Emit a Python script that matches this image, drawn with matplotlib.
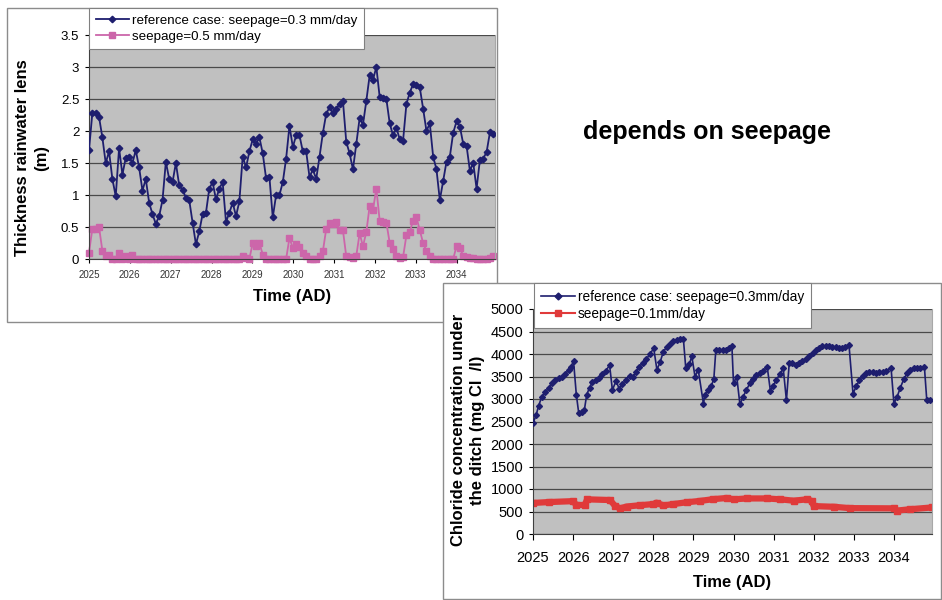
import numpy as np
import matplotlib
matplotlib.use("Agg")
import matplotlib.pyplot as plt
from matplotlib.lines import Line2D
from matplotlib.patches import Rectangle

plt.rcParams["font.family"] = ["Liberation Sans", "DejaVu Sans"]

NAVY = "#1e1e6e"
PINK = "#cc66aa"
RED = "#e03a3a"
PLOT_BG = "#c0c0c0"
GRID = "#4a4a4a"
FRAME = "#8c8c8c"

# --- thickness of the rainwater lens (m), model output roughly every month
lens_ref = [1.70, 2.28, 2.28, 2.22, 1.90, 1.50, 1.68, 1.25, 0.98, 1.73,
            1.32, 1.58, 1.60, 1.50, 1.70, 1.43, 1.07, 1.25, 0.88, 0.70,
            0.55, 0.67, 0.92, 1.52, 1.25, 1.20, 1.50, 1.15, 1.08, 0.96,
            0.92, 0.57, 0.23, 0.43, 0.70, 0.72, 1.10, 1.20, 0.93, 1.10,
            1.20, 0.58, 0.72, 0.88, 0.67, 0.90, 1.60, 1.43, 1.68, 1.87,
            1.80, 1.90, 1.65, 1.26, 1.28, 0.65, 1.00, 1.00, 1.20, 1.57,
            2.08, 1.75, 1.93, 1.93, 1.68, 1.68, 1.28, 1.40, 1.25, 1.60,
            1.97, 2.27, 2.37, 2.28, 2.35, 2.42, 2.47, 1.83, 1.65, 1.40,
            1.80, 2.20, 2.10, 2.47, 2.87, 2.80, 3.00, 2.53, 2.52, 2.50,
            2.12, 1.93, 2.05, 1.87, 1.85, 2.42, 2.60, 2.73, 2.72, 2.68,
            2.35, 2.00, 2.12, 1.60, 1.40, 0.92, 1.22, 1.52, 1.60, 1.97,
            2.15, 2.07, 1.80, 1.77, 1.38, 1.50, 1.10, 1.55, 1.57, 1.67,
            1.98, 1.95]
lens_05 = [0.10, 0.47, 0.47, 0.50, 0.13, 0.05, 0.07, 0.00, 0.00, 0.10,
           0.00, 0.05, 0.00, 0.06, 0.00, 0.00, 0.00, 0.00, 0.00, 0.00,
           0.00, 0.00, 0.00, 0.00, 0.00, 0.00, 0.00, 0.00, 0.00, 0.00,
           0.00, 0.00, 0.00, 0.00, 0.00, 0.00, 0.00, 0.00, 0.00, 0.00,
           0.00, 0.00, 0.00, 0.00, 0.00, 0.00, 0.05, 0.02, 0.00, 0.25,
           0.20, 0.25, 0.07, 0.00, 0.00, 0.00, 0.00, 0.00, 0.00, 0.00,
           0.33, 0.17, 0.23, 0.18, 0.10, 0.05, 0.00, 0.00, 0.00, 0.04,
           0.12, 0.47, 0.57, 0.55, 0.58, 0.45, 0.45, 0.04, 0.03, 0.02,
           0.05, 0.40, 0.20, 0.42, 0.83, 0.77, 1.10, 0.60, 0.58, 0.57,
           0.25, 0.15, 0.05, 0.02, 0.03, 0.37, 0.42, 0.60, 0.65, 0.45,
           0.25, 0.12, 0.05, 0.00, 0.00, 0.00, 0.00, 0.00, 0.00, 0.00,
           0.20, 0.17, 0.05, 0.03, 0.02, 0.01, 0.00, 0.00, 0.00, 0.00,
           0.02, 0.05]
lens_step = 0.0818  # years between outputs
lens_time = 2025 + lens_step * np.arange(len(lens_ref))

# --- chloride concentration under the ditch (mg Cl-/l)
chl_time = [2024.92, 2025.00, 2025.08, 2025.14, 2025.22, 2025.31, 2025.39, 2025.47, 2025.56, 2025.64,
            2025.72, 2025.80, 2025.89, 2025.95, 2026.01, 2026.08, 2026.14, 2026.22, 2026.28, 2026.34,
            2026.41, 2026.48, 2026.56, 2026.64, 2026.73, 2026.81, 2026.91, 2026.98, 2027.07, 2027.15,
            2027.23, 2027.31, 2027.41, 2027.49, 2027.57, 2027.65, 2027.74, 2027.82, 2027.92, 2028.01,
            2028.09, 2028.17, 2028.25, 2028.33, 2028.42, 2028.50, 2028.58, 2028.67, 2028.75, 2028.81,
            2028.90, 2028.96, 2029.04, 2029.12, 2029.25, 2029.29, 2029.37, 2029.45, 2029.51, 2029.56,
            2029.64, 2029.73, 2029.81, 2029.89, 2029.96, 2030.00, 2030.08, 2030.16, 2030.24, 2030.32,
            2030.41, 2030.49, 2030.57, 2030.66, 2030.74, 2030.84, 2030.92, 2030.99, 2031.07, 2031.15,
            2031.24, 2031.32, 2031.39, 2031.47, 2031.55, 2031.63, 2031.72, 2031.80, 2031.88, 2031.97,
            2032.05, 2032.13, 2032.21, 2032.30, 2032.38, 2032.46, 2032.55, 2032.63, 2032.71, 2032.79,
            2032.88, 2032.98, 2033.06, 2033.14, 2033.23, 2033.31, 2033.39, 2033.47, 2033.56, 2033.64,
            2033.72, 2033.81, 2033.93, 2034.00, 2034.08, 2034.16, 2034.25, 2034.33, 2034.41, 2034.49,
            2034.58, 2034.66, 2034.76, 2034.82, 2034.90]
chl_ref = [2950, 2460, 2650, 2850, 3050, 3150, 3250, 3350, 3420, 3470,
           3500, 3560, 3640, 3720, 3850, 3100, 2690, 2720, 2750, 3100,
           3250, 3380, 3420, 3470, 3550, 3620, 3750, 3200, 3400, 3230,
           3330, 3420, 3520, 3480, 3600, 3720, 3800, 3880, 4000, 4130,
           3650, 3820, 4050, 4150, 4220, 4280, 4320, 4330, 4340, 3680,
           3780, 3950, 3500, 3650, 2900, 3100, 3200, 3300, 3450, 4100,
           4100, 4080, 4100, 4130, 4180, 3350, 3500, 2880, 3050, 3200,
           3350, 3450, 3530, 3580, 3620, 3720, 3180, 3300, 3420, 3550,
           3680, 2970, 3800, 3800, 3760, 3790, 3850, 3900, 3960, 4020,
           4080, 4130, 4170, 4180, 4170, 4160, 4150, 4140, 4130, 4150,
           4200, 3120, 3280, 3420, 3520, 3580, 3600, 3600, 3580, 3600,
           3600, 3620, 3680, 2900, 3050, 3250, 3450, 3570, 3650, 3680,
           3690, 3700, 3720, 2970, 2970]
chl_01_time = [2025.00, 2025.40, 2026.00, 2026.08, 2026.29, 2026.35, 2026.92, 2027.05, 2027.17, 2027.34,
               2027.67, 2028.00, 2028.08, 2028.25, 2028.50, 2028.83, 2029.17, 2029.50, 2029.83, 2030.00,
               2030.33, 2030.83, 2031.17, 2031.50, 2031.83, 2031.95, 2032.00, 2032.50, 2032.90, 2034.00,
               2034.08, 2034.40, 2034.95]
chl_01 = [690, 710, 730, 645, 645, 770, 755, 620, 570, 610,
          640, 665, 695, 635, 665, 705, 735, 775, 800, 770,
          790, 790, 770, 740, 770, 735, 620, 605, 575, 570,
          520, 550, 590]

years = list(range(2025, 2035))

W, H = 942, 600
fig = plt.figure(figsize=(W / 100, H / 100), dpi=100)


def fx(px):
    return px / W


def fy(py):
    return 1 - py / H


# slide frames
fig.add_artist(Rectangle((fx(7), fy(322)), 490 / W, 314 / H, transform=fig.transFigure,
                         fill=False, ec=FRAME, lw=1, zorder=-2))
fig.add_artist(Rectangle((fx(443), fy(599)), 498 / W, 316 / H, transform=fig.transFigure,
                         fc="white", ec=FRAME, lw=1, zorder=-1))

# ---------- top chart ----------
ax1 = fig.add_axes([fx(89), fy(259), 406 / W, 224 / H])
ax1.set_facecolor(PLOT_BG)
ax1.plot(lens_time, lens_ref, color=NAVY, lw=1.3, marker="D", ms=3.3,
         label="reference case: seepage=0.3 mm/day", zorder=3)
ax1.plot(lens_time, lens_05, color=PINK, lw=1.3, marker="s", ms=4,
         label="seepage=0.5 mm/day", zorder=2, clip_on=False)
ax1.set_xlim(2025, 2034.94)
ax1.set_ylim(0, 3.5)
ax1.set_yticks(np.arange(0, 3.51, 0.5))
ax1.set_yticklabels(["0", "0.5", "1", "1.5", "2", "2.5", "3", "3.5"])
ax1.set_xticks(years)
ax1.set_xticklabels([str(y) for y in years])
ax1.grid(axis="y", color=GRID, lw=0.9)
ax1.set_axisbelow(True)
ax1.tick_params(axis="x", direction="out", length=3, labelsize=7, labelcolor="#333333", pad=5)
ax1.tick_params(axis="y", direction="out", length=3, labelsize=9.5, pad=4)
for s in ["left", "bottom"]:
    ax1.spines[s].set_color("#404040")
ax1.spines["top"].set_visible(False)
ax1.spines["right"].set_color("#a8a8a8")

leg1 = ax1.legend(loc="upper left", bbox_to_anchor=(fx(89), fy(8)), bbox_transform=fig.transFigure,
                  fontsize=9.6, fancybox=False, edgecolor="#808080", framealpha=1, borderpad=0.5,
                  labelspacing=0.25, handlelength=2.5, handletextpad=0.2, borderaxespad=0, numpoints=1)
leg1.get_frame().set_linewidth(0.8)

fig.text(fx(32), fy(158), "Thickness rainwater lens\n(m)", rotation=90, ha="center", va="center",
         fontsize=12, fontweight="bold", linespacing=1.35, multialignment="center")
fig.text(fx(292), fy(297), "Time (AD)", ha="center", va="center", fontsize=12, fontweight="bold")

fig.text(fx(707), fy(132), "depends on seepage", ha="center", va="center", fontsize=18, fontweight="bold")

# ---------- bottom chart ----------
ax2 = fig.add_axes([fx(533), fy(534), 399 / W, 225 / H])
ax2.set_facecolor(PLOT_BG)
ax2.plot(chl_time, chl_ref, color=NAVY, lw=1.2, marker="D", ms=3.0, zorder=3)
ax2.plot(chl_01_time, chl_01, color=RED, lw=4.5, marker="s", ms=5, zorder=2)
ax2.set_xlim(2025, 2034.95)
ax2.set_ylim(0, 5000)
ax2.set_yticks(np.arange(0, 5001, 500))
ax2.set_xticks(years)
ax2.set_xticklabels([str(y) for y in years])
ax2.grid(axis="y", color=GRID, lw=0.9)
ax2.set_axisbelow(True)
ax2.tick_params(axis="x", direction="out", length=4, labelsize=10.5, pad=8)
ax2.tick_params(axis="y", direction="out", length=3, labelsize=10.5, pad=4)
for s in ["left", "bottom"]:
    ax2.spines[s].set_color("#404040")
ax2.spines["top"].set_visible(False)
ax2.spines["right"].set_color("#a8a8a8")

handles = [Line2D([], [], color=NAVY, lw=1.2, marker="D", ms=3.5),
           Line2D([], [], color=RED, lw=1.5, marker="s", ms=5)]
leg2 = ax2.legend(handles, ["reference case: seepage=0.3mm/day", "seepage=0.1mm/day"],
                  loc="upper left", bbox_to_anchor=(fx(534), fy(283)), bbox_transform=fig.transFigure,
                  fontsize=9.8, fancybox=False, edgecolor="#808080", framealpha=1, borderpad=0.5,
                  labelspacing=0.25, handlelength=2.5, handletextpad=0.2, borderaxespad=0, numpoints=1)
leg2.get_frame().set_linewidth(0.8)

fig.text(fx(468), fy(430), "Chloride concentration under\nthe ditch (mg Cl  /l)", rotation=90,
         ha="center", va="center", fontsize=12, fontweight="bold", linespacing=1.35,
         multialignment="center")
fig.text(fx(732), fy(583), "Time (AD)", ha="center", va="center", fontsize=12, fontweight="bold")

fig.savefig("out.png", dpi=100)
